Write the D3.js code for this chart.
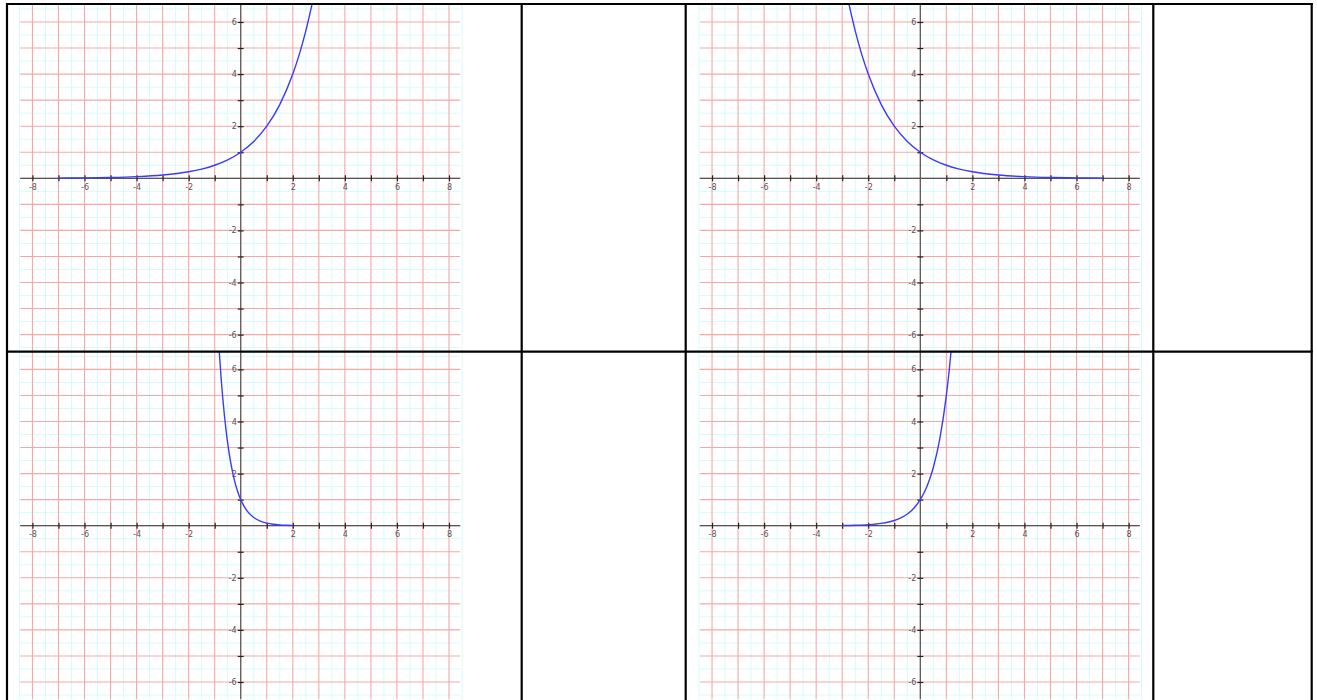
<!DOCTYPE html>
<html>
<head>
<meta charset="utf-8">
<script src="https://cdn.jsdelivr.net/npm/d3@7"></script>
<style>
  body { margin: 0; background: #fff; }
  svg { display: block; }
  .tick text { font-family: "DejaVu Sans", sans-serif; font-size: 8px; fill: #555; }
</style>
</head>
<body>
<div id="chart"></div>
<script>
// tick values shared by every plot
const xTicks = [-8, -7, -6, -5, -4, -3, -2, -1, 1, 2, 3, 4, 5, 6, 7, 8];
const yTicks = [-6, -5, -4, -3, -2, -1, 1, 2, 3, 4, 5, 6];

// curve 1: y = 2^x
const xs1 = [-7, -6, -5, -4, -3, -2, -1.5, -1, -0.5, 0, 0.5, 1, 1.5, 2, 2.25, 2.5, 2.75];
const ys1 = [0.008, 0.016, 0.031, 0.063, 0.125, 0.25, 0.354, 0.5, 0.707, 1, 1.414, 2, 2.828, 4, 4.757, 5.657, 6.727];
// curve 2: y = (1/2)^x
const xs2 = [-2.75, -2.5, -2.25, -2, -1.5, -1, -0.5, 0, 0.5, 1, 1.5, 2, 3, 4, 5, 6, 7];
const ys2 = [6.727, 5.657, 4.757, 4, 2.828, 2, 1.414, 1, 0.707, 0.5, 0.354, 0.25, 0.125, 0.063, 0.031, 0.016, 0.008];
// curve 3: y = (1/10)^x
const xs3 = [-0.83, -0.75, -0.625, -0.5, -0.375, -0.25, -0.125, 0, 0.125, 0.25, 0.5, 0.75, 1, 1.25, 1.5, 1.75, 2];
const ys3 = [6.76, 5.62, 4.22, 3.16, 2.37, 1.78, 1.33, 1, 0.75, 0.562, 0.316, 0.178, 0.1, 0.056, 0.032, 0.018, 0.01];
// curve 4: y = 5^x
const xs4 = [-3, -2.5, -2, -1.5, -1, -0.75, -0.5, -0.25, 0, 0.25, 0.5, 0.75, 1, 1.1, 1.19];
const ys4 = [0.008, 0.018, 0.04, 0.089, 0.2, 0.299, 0.447, 0.669, 1, 1.495, 2.236, 3.344, 5, 5.87, 6.79];

const W = 1317, H = 700;
const plotW = 440, plotH = 347;

// table lines (the bottom edge falls just below the window)
const colLines = [7, 521.7, 685.7, 1153.3, 1311.7];
const rowLines = [4, 351.7];

const plots = [
  { left: 20.2, top: 4.8, xs: xs1, ys: ys1 },
  { left: 699.8, top: 4.8, xs: xs2, ys: ys2 },
  { left: 20.2, top: 352.2, xs: xs3, ys: ys3 },
  { left: 699.8, top: 352.2, xs: xs4, ys: ys4 }
];

const svg = d3.select("#chart").append("svg")
  .attr("width", W)
  .attr("height", H);

const x = d3.scaleLinear().domain([-8.47, 8.43]).range([0, plotW]);
const y = d3.scaleLinear().domain([-6.66, 6.66]).range([plotH, 0]);

const halfX = d3.range(-17, 18).map(d => d / 2).filter(d => d % 1 !== 0);
const halfY = d3.range(-13, 14).map(d => d / 2).filter(d => d % 1 !== 0);
const wholeX = d3.range(-8, 9);
const wholeY = d3.range(-6, 7);

const line = d3.line()
  .x(d => x(d[0]))
  .y(d => y(d[1]))
  .curve(d3.curveMonotoneX);

const fmt = d => d % 2 === 0 ? String(d) : "";

plots.forEach((p, i) => {
  svg.append("clipPath").attr("id", "clip" + i)
    .append("rect").attr("width", plotW).attr("height", plotH);

  const g = svg.append("g")
    .attr("transform", `translate(${p.left},${p.top})`);

  // minor grid (half units)
  g.selectAll(".mx").data(halfX).enter().append("line")
    .attr("x1", d => x(d)).attr("x2", d => x(d))
    .attr("y1", 0).attr("y2", plotH)
    .attr("stroke", "#d6fbfb").attr("stroke-width", 1);
  g.selectAll(".my").data(halfY).enter().append("line")
    .attr("x1", 0).attr("x2", plotW)
    .attr("y1", d => y(d)).attr("y2", d => y(d))
    .attr("stroke", "#d6fbfb").attr("stroke-width", 1);

  // major grid (whole units)
  g.selectAll(".gx").data(wholeX).enter().append("line")
    .attr("x1", d => x(d)).attr("x2", d => x(d))
    .attr("y1", 0).attr("y2", plotH)
    .attr("stroke", "#f5a8a8").attr("stroke-width", 1.1);
  g.selectAll(".gy").data(wholeY).enter().append("line")
    .attr("x1", 0).attr("x2", plotW)
    .attr("y1", d => y(d)).attr("y2", d => y(d))
    .attr("stroke", "#f5a8a8").attr("stroke-width", 1.1);

  // axis lines
  g.append("line")
    .attr("x1", 0).attr("x2", plotW)
    .attr("y1", y(0)).attr("y2", y(0))
    .attr("stroke", "#555").attr("stroke-width", 1.2);
  g.append("line")
    .attr("x1", x(0)).attr("x2", x(0))
    .attr("y1", 0).attr("y2", plotH)
    .attr("stroke", "#555").attr("stroke-width", 1.2);

  // ticks and labels
  const xAxis = d3.axisBottom(x).tickValues(xTicks).tickSize(3).tickPadding(3).tickFormat(fmt);
  const yAxis = d3.axisLeft(y).tickValues(yTicks).tickSize(3).tickPadding(1).tickFormat(fmt);

  const gx = g.append("g").attr("transform", `translate(0,${y(0)})`).call(xAxis);
  gx.select(".domain").remove();
  gx.selectAll(".tick line").attr("y1", -3).attr("stroke", "#222").attr("stroke-width", 1.2);

  const gy = g.append("g").attr("transform", `translate(${x(0)},0)`).call(yAxis);
  gy.select(".domain").remove();
  gy.selectAll(".tick line").attr("x1", 3).attr("stroke", "#222").attr("stroke-width", 1.2);

  // curve
  const pts = p.xs.map((v, j) => [v, p.ys[j]]);
  g.append("path")
    .datum(pts)
    .attr("clip-path", `url(#clip${i})`)
    .attr("fill", "none")
    .attr("stroke", "#3a3aff")
    .attr("stroke-width", 1.4)
    .attr("d", line);
});

// table borders
svg.selectAll(".col").data(colLines).enter().append("line")
  .attr("x1", d => d).attr("x2", d => d)
  .attr("y1", rowLines[0] - 1).attr("y2", H)
  .attr("stroke", "#000").attr("stroke-width", 2.2);
svg.selectAll(".row").data(rowLines).enter().append("line")
  .attr("x1", colLines[0] - 1).attr("x2", colLines[colLines.length - 1] + 1)
  .attr("y1", d => d).attr("y2", d => d)
  .attr("stroke", "#000").attr("stroke-width", 2.2);
</script>
</body>
</html>
